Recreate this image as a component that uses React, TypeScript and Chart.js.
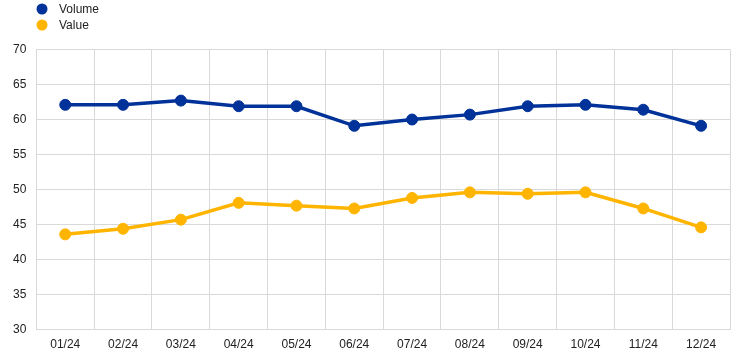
import React, { useEffect, useRef } from "react";
import { Chart, registerables } from "chart.js";

Chart.register(...registerables);

const categories = ["01/24", "02/24", "03/24", "04/24", "05/24", "06/24", "07/24", "08/24", "09/24", "10/24", "11/24", "12/24"];
const volumeValues = [62.1, 62.1, 62.7, 61.9, 61.9, 59.1, 60.0, 60.7, 61.9, 62.1, 61.4, 59.1];
const valueValues = [43.6, 44.4, 45.7, 48.1, 47.7, 47.3, 48.8, 49.6, 49.4, 49.6, 47.3, 44.6];
const seriesNames = ["Volume", "Value"];
const seriesColors = ["#003299", "#ffb400"];

const FONT = '"Liberation Sans", Arial, sans-serif';
const GRID = "#d9d9d9";
const TEXT = "#222222";

const legendPlugin = {
  id: "customLegend",
  afterDraw(chart: any) {
    const ctx = chart.ctx;
    ctx.save();
    ctx.font = `12px ${FONT}`;
    ctx.textBaseline = "middle";
    ctx.textAlign = "left";
    seriesNames.forEach((name, i) => {
      const y = 9 + i * 16;
      ctx.beginPath();
      ctx.arc(42, y, 5.5, 0, Math.PI * 2);
      ctx.fillStyle = seriesColors[i];
      ctx.fill();
      ctx.fillStyle = TEXT;
      ctx.fillText(name, 59, y + 0.5);
    });
    ctx.restore();
  },
};

export default function App() {
  const ref = useRef<HTMLCanvasElement>(null);
  useEffect(() => {
    if (!ref.current) return;
    const chart = new Chart(ref.current, {
      type: "line",
      data: {
        labels: categories,
        datasets: [
          {
            label: seriesNames[0],
            data: volumeValues,
            borderColor: seriesColors[0],
            backgroundColor: seriesColors[0],
            borderWidth: 3.5,
            pointRadius: 5.5,
            pointBorderWidth: 1,
            tension: 0,
          },
          {
            label: seriesNames[1],
            data: valueValues,
            borderColor: seriesColors[1],
            backgroundColor: seriesColors[1],
            borderWidth: 3.5,
            pointRadius: 5.5,
            pointBorderWidth: 1,
            tension: 0,
          },
        ],
      },
      options: {
        animation: false,
        responsive: false,
        maintainAspectRatio: false,
        layout: { padding: { top: 49.5, right: 15, bottom: -3, left: 3 } },
        plugins: { legend: { display: false }, tooltip: { enabled: false } },
        scales: {
          x: {
            offset: true,
            grid: { color: GRID, offset: true, drawTicks: false },
            border: { color: GRID },
            ticks: { color: TEXT, font: { family: FONT, size: 12 }, padding: 8, maxRotation: 0 },
          },
          y: {
            min: 30,
            max: 70,
            grid: { color: GRID, drawTicks: false },
            border: { color: GRID },
            ticks: { stepSize: 5, color: TEXT, font: { family: FONT, size: 12 }, padding: 10 },
          },
        },
      },
      plugins: [legendPlugin],
    });
    return () => chart.destroy();
  }, []);
  return (
    <div style={{ position: "absolute", left: 0, top: 0, width: 745, height: 357 }}>
      <canvas ref={ref} width={745} height={357} />
    </div>
  );
}
